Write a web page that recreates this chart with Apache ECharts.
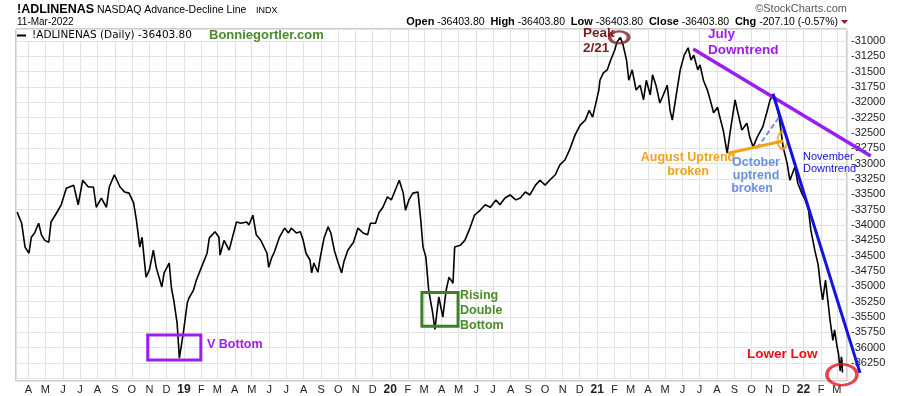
<!DOCTYPE html>
<html><head><meta charset="utf-8">
<script src="https://cdn.jsdelivr.net/npm/echarts@6/dist/echarts.min.js"></script>
<style>html,body{margin:0;padding:0;background:#fff}#c{width:900px;height:396px}</style>
</head><body><div id="c"></div>
<script>
// ---- Data ----
const dates = [
'2018-03-12','2018-03-20','2018-03-26','2018-04-02','2018-04-06','2018-04-12','2018-04-19','2018-04-24','2018-04-30','2018-05-07',
'2018-05-11','2018-05-21','2018-05-29','2018-06-07','2018-06-20','2018-06-28','2018-07-06','2018-07-16','2018-07-25','2018-07-30',
'2018-08-08','2018-08-17','2018-08-22','2018-08-31','2018-09-10','2018-09-18','2018-09-26','2018-10-04','2018-10-09','2018-10-15',
'2018-10-19','2018-10-26','2018-11-01','2018-11-08','2018-11-13','2018-11-23','2018-11-27','2018-12-06','2018-12-10','2018-12-14',
'2018-12-20','2018-12-24','2018-12-31','2019-01-07','2019-01-10','2019-01-18','2019-01-23','2019-02-01','2019-02-11','2019-02-15',
'2019-02-25','2019-03-04','2019-03-06','2019-03-13','2019-03-22','2019-04-04','2019-04-12','2019-04-22','2019-04-26','2019-05-03',
'2019-05-09','2019-05-17','2019-05-28','2019-05-31','2019-06-05','2019-06-10','2019-06-19','2019-06-28','2019-07-05','2019-07-10',
'2019-07-19','2019-07-26','2019-07-31','2019-08-05','2019-08-12','2019-08-15','2019-08-19','2019-08-26','2019-08-30','2019-09-06',
'2019-09-13','2019-09-18','2019-09-24','2019-10-01','2019-10-07','2019-10-11','2019-10-18','2019-10-28','2019-11-05','2019-11-14',
'2019-11-22','2019-11-27','2019-12-06','2019-12-12','2019-12-19','2019-12-27','2020-01-03','2020-01-10','2020-01-17','2020-01-24',
'2020-01-28','2020-02-03','2020-02-10','2020-02-19','2020-02-24','2020-02-28','2020-03-04','2020-03-09','2020-03-16','2020-03-20',
'2020-03-24','2020-03-27','2020-04-03','2020-04-09','2020-04-14','2020-04-21','2020-04-24','2020-05-04','2020-05-12','2020-05-21',
'2020-05-29','2020-06-08','2020-06-17','2020-06-26','2020-07-06','2020-07-13','2020-07-22','2020-07-31','2020-08-10','2020-08-18',
'2020-08-27','2020-09-04','2020-09-14','2020-09-22','2020-10-01','2020-10-09','2020-10-19','2020-10-27','2020-11-05','2020-11-13',
'2020-11-23','2020-12-02','2020-12-11','2020-12-18','2020-12-24','2021-01-04','2021-01-06','2021-01-12','2021-01-19','2021-01-25',
'2021-02-01','2021-02-05','2021-02-11','2021-02-16','2021-02-22','2021-02-26','2021-03-04','2021-03-11','2021-03-18','2021-03-24',
'2021-03-29','2021-04-05','2021-04-09','2021-04-15','2021-04-22','2021-04-28','2021-05-05','2021-05-10','2021-05-14','2021-05-21',
'2021-05-28','2021-06-04','2021-06-11','2021-06-16','2021-06-21','2021-06-28','2021-07-02','2021-07-08','2021-07-15','2021-07-20',
'2021-07-26','2021-08-02','2021-08-06','2021-08-12','2021-08-19','2021-08-24','2021-09-02','2021-09-07','2021-09-14','2021-09-23',
'2021-09-28','2021-10-04','2021-10-11','2021-10-15','2021-10-21','2021-10-28','2021-11-03','2021-11-08','2021-11-15','2021-11-19',
'2021-11-26','2021-12-03','2021-12-08','2021-12-17','2021-12-22','2021-12-29','2022-01-04','2022-01-10','2022-01-14','2022-01-21',
'2022-01-27','2022-01-31','2022-02-04','2022-02-09','2022-02-11','2022-02-17','2022-02-22','2022-02-25','2022-03-01','2022-03-04',
'2022-03-07','2022-03-09','2022-03-10','2022-03-11'
];
const values = [
-33790,-33970,-34360,-34460,-34200,-34130,-33970,-34160,-34250,-34280,
-33950,-33800,-33670,-33400,-33350,-33670,-33270,-33380,-33380,-33710,
-33560,-33710,-33380,-33180,-33380,-33460,-33480,-33640,-33920,-34360,
-34200,-34850,-34730,-34410,-34690,-35010,-34780,-34620,-35030,-35220,
-35600,-36170,-35760,-35270,-35190,-35060,-34900,-34690,-34460,-34210,
-34110,-34200,-34490,-34250,-34410,-33950,-33970,-33950,-34000,-33840,
-34160,-34250,-34460,-34690,-34540,-34440,-34200,-34050,-34130,-34050,
-34130,-34110,-34250,-34460,-34570,-34780,-34620,-34770,-34540,-34210,
-34030,-34130,-34410,-34620,-34780,-34600,-34410,-34280,-34050,-34130,
-34160,-33970,-33970,-33800,-33710,-33540,-33590,-33430,-33270,-33480,
-33760,-33590,-33480,-33460,-33920,-34360,-34520,-35060,-35430,-35700,
-35390,-35170,-35500,-35060,-34850,-34950,-34360,-34330,-34250,-34050,
-33840,-33760,-33670,-33710,-33590,-33670,-33560,-33510,-33590,-33560,
-33460,-33510,-33350,-33270,-33350,-33270,-33180,-33020,-32940,-32780,
-32530,-32370,-32290,-32130,-32240,-31800,-31640,-31520,-31470,-31310,
-31150,-31020,-30940,-31070,-31310,-31640,-31470,-31800,-31720,-31960,
-31640,-31880,-31550,-31720,-32010,-31880,-31720,-32130,-32290,-31880,
-31470,-31230,-31110,-31310,-31230,-31470,-31390,-31640,-31800,-31960,
-32170,-32080,-32240,-32450,-32830,-32500,-31960,-32170,-32450,-32340,
-32570,-32730,-32570,-32500,-32400,-32170,-31960,-31880,-32080,-32240,
-32730,-32990,-33270,-33050,-33320,-33480,-33590,-33760,-34080,-34410,
-34650,-34980,-35220,-34900,-35060,-35550,-35880,-35710,-35960,-36100,
-36380,-36150,-36197,-36404
];
const monthLetters = ['J','F','M','A','M','J','J','A','S','O','N','D'];
const xRange = ['2018-03-10', '2022-03-19'];
const yRange = [-36543, -30804];
const yStep = 250;
const yLabelRange = [-36250, -31000];

// annotation anchors (date, value)
const julyDowntrend = [['2021-06-20', -31130], ['2022-04-30', -32875]];
const novemberDowntrend = [['2021-11-08', -31860], ['2022-04-11', -36410]];
const octoberUptrend = [['2021-10-11', -32745], ['2021-11-19', -32240]];
const augustUptrend = [['2021-08-20', -32830], ['2021-11-26', -32630]];
const vBottomBox = [['2018-10-29', -35794], ['2019-01-31', -36201]];
const doubleBottomBox = [['2020-02-26', -35100], ['2020-04-30', -35650]];
const peakCircle = ['2021-02-09', -30940];
const augustCircle = ['2021-11-25', -32620];
const lowerLowCircle = ['2022-03-10', -36440];

const T = d => Date.parse(d);
const lineData = dates.map((d, i) => [T(d), values[i]]);
const seg = (p, style) => [{coord: [T(p[0][0]), p[0][1]], lineStyle: style}, {coord: [T(p[1][0]), p[1][1]]}];
const box = (p, color) => [{coord: [T(p[0][0]), p[0][1]], itemStyle: {color: 'rgba(0,0,0,0)', borderColor: color, borderWidth: 3}}, {coord: [T(p[1][0]), p[1][1]]}];

const PURPLE = '#9a1ef2', BLUE = '#1212e6', LBLUE = '#6a92dc', ORANGE = '#f4a11c', GREEN = '#4b8b2b', DRED = '#7b1e1e', RED = '#e8101a';
const FONT = 'Liberation Sans, Arial, sans-serif';

const txt = (x, y, text, size, color, weight, align) => ({
  type: 'text', x: x, y: y, silent: true, z: 100,
  style: {text: text, fontFamily: FONT, fontSize: size, fontWeight: weight || 'normal', fill: color || '#000', align: align || 'left', verticalAlign: 'middle'}
});

const graphics = [
  // header
  txt(17, 9.5, '!ADLINENAS', 12.5, '#000', 'bold'),
  txt(97, 10.5, 'NASDAQ Advance-Decline Line', 10.5, '#000'),
  txt(256, 11, 'INDX', 9, '#000'),
  txt(17, 22, '11-Mar-2022', 10, '#000'),
  {
    type: 'text', x: 838, y: 22, silent: true, z: 100,
    style: {
      text: '{b|Open} -36403.80  {b|High} -36403.80  {b|Low} -36403.80  {b|Close} -36403.80  {b|Chg} -207.10 (-0.57%)',
      fontFamily: FONT, fontSize: 10.5, fill: '#000', align: 'right', verticalAlign: 'middle',
      rich: {b: {fontWeight: 'bold', fontSize: 11, fontFamily: FONT, fill: '#000'}}
    }
  },
  {type: 'polygon', silent: true, z: 100, shape: {points: [[841, 20], [848, 20], [844.5, 24]]}, style: {fill: '#a01818'}},
  txt(847, 9, '\u00A9StockCharts.com', 11, '#555', 'normal', 'right'),
  // legend
  {type: 'rect', silent: true, z: 90, shape: {x: 17, y: 30, width: 313, height: 11}, style: {fill: '#fff'}},
  {type: 'line', silent: true, z: 100, shape: {x1: 17, y1: 35.5, x2: 26, y2: 35.5}, style: {stroke: '#000', lineWidth: 2}},
  {type: 'text', x: 32, y: 35.5, silent: true, z: 100, style: {text: '!ADLINENAS (Daily) -36403.80', fontFamily: 'DejaVu Sans', fontSize: 10.5, fill: '#000', verticalAlign: 'middle'}},
  txt(209, 35.5, 'Bonniegortler.com', 13, GREEN, 'bold'),
  // annotations
  txt(583, 33, 'Peak', 13.5, DRED, 'bold'),
  txt(583, 48, '2/21', 13.5, DRED, 'bold'),
  txt(708, 34, 'July', 13.5, PURPLE, 'bold'),
  txt(708, 50, 'Downtrend', 13.5, PURPLE, 'bold'),
  txt(688, 158, 'August Uptrend', 12.5, ORANGE, 'bold', 'center'),
  txt(688, 172, 'broken', 12.5, ORANGE, 'bold', 'center'),
  txt(756, 163, 'October', 12.5, LBLUE, 'bold', 'center'),
  txt(756, 176, 'uptrend', 12.5, LBLUE, 'bold', 'center'),
  txt(752, 189, 'broken', 12.5, LBLUE, 'bold', 'center'),
  txt(803, 157, 'November', 11, BLUE),
  txt(803, 169, 'Downtrend', 11, BLUE),
  txt(207, 345, 'V Bottom', 12.5, PURPLE, 'bold'),
  txt(460, 296, 'Rising', 12.5, GREEN, 'bold'),
  txt(460, 311, 'Double', 12.5, GREEN, 'bold'),
  txt(460, 326, 'Bottom', 12.5, GREEN, 'bold'),
  txt(747, 354, 'Lower Low', 13.5, RED, 'bold')
];

const chart = echarts.init(document.getElementById('c'), null, {renderer: 'canvas'});
chart.setOption({
  animation: false,
  useUTC: true,
  backgroundColor: '#fff',
  grid: {left: 16, right: 53, top: 29, bottom: 15, show: true, borderColor: '#9a9a9a', borderWidth: 1, backgroundColor: '#fff'},
  xAxis: {
    type: 'time', min: T(xRange[0]), max: T(xRange[1]),
    minInterval: 31 * 86400000, maxInterval: 31 * 86400000, splitNumber: 48,
    axisLine: {show: false}, axisTick: {show: false},
    splitLine: {show: true, lineStyle: {color: '#e2e2e2', width: 1}},
    axisLabel: {
      margin: 3, color: '#222', fontFamily: FONT, fontSize: 11, hideOverlap: false,
      showMinLabel: false, showMaxLabel: false,
      formatter: function (v) {
        const d = new Date(v);
        if (d.getUTCDate() !== 1) return '';
        const m = d.getUTCMonth();
        if (m === 0) return '{y|' + String(d.getUTCFullYear()).slice(2) + '}';
        return monthLetters[m];
      },
      rich: {y: {fontWeight: 'bold', fontSize: 12, fontFamily: FONT, color: '#222'}}
    }
  },
  yAxis: {
    type: 'value', position: 'right', min: yRange[0], max: yRange[1],
    minInterval: yStep, maxInterval: yStep, splitNumber: 23, scale: true,
    axisLine: {show: false}, axisTick: {show: false},
    splitLine: {show: true, lineStyle: {color: '#e2e2e2', width: 1}},
    axisLabel: {
      margin: 4, color: '#222', fontFamily: FONT, fontSize: 11, showMinLabel: false, showMaxLabel: false,
      formatter: function (v) { return (v < yLabelRange[0] || v > yLabelRange[1]) ? '' : String(Math.round(v)); }
    }
  },
  series: [
    {
      type: 'line', data: lineData, showSymbol: false, symbol: 'none', clip: false, z: 3,
      lineStyle: {color: '#000', width: 1.6}, silent: true,
      markLine: {
        silent: true, symbol: ['none', 'none'], label: {show: false}, animation: false, z: 6,
        emphasis: {disabled: true},
        data: [
          seg(octoberUptrend, {color: LBLUE, width: 2, type: [5, 3]}),
          seg(augustUptrend, {color: ORANGE, width: 3, type: 'solid'})
        ]
      },
      markArea: {
        silent: true, label: {show: false}, z: 6,
        data: [box(vBottomBox, PURPLE), box(doubleBottomBox, '#3f7f2a')]
      }
    },
    {
      type: 'scatter', clip: false, silent: true, z: 7, symbol: 'circle',
      data: [
        {value: [T(peakCircle[0]), peakCircle[1]], symbolSize: [19, 12], itemStyle: {color: 'rgba(0,0,0,0)', borderColor: DRED, borderWidth: 3}},
        {value: [T(augustCircle[0]), augustCircle[1]], symbolSize: [10, 17], itemStyle: {color: 'rgba(0,0,0,0)', borderColor: ORANGE, borderWidth: 2.5}},
        {value: [T(lowerLowCircle[0]), lowerLowCircle[1]], symbolSize: [30, 21], itemStyle: {color: 'rgba(0,0,0,0)', borderColor: RED, borderWidth: 3}}
      ]
    }
  ],
  graphic: graphics
});

// trend lines that run past the plot edge: place them through the chart's own scales
const px = p => chart.convertToPixel({gridIndex: 0}, [T(p[0]), p[1]]);
const trendLine = (p, color, width) => {
  const a = px(p[0]), b = px(p[1]);
  return {type: 'line', silent: true, z: 50, shape: {x1: a[0], y1: a[1], x2: b[0], y2: b[1]}, style: {stroke: color, lineWidth: width}};
};
chart.setOption({graphic: graphics.concat([
  trendLine(julyDowntrend, PURPLE, 3.5),
  trendLine(novemberDowntrend, BLUE, 3)
])});
</script></body></html>
